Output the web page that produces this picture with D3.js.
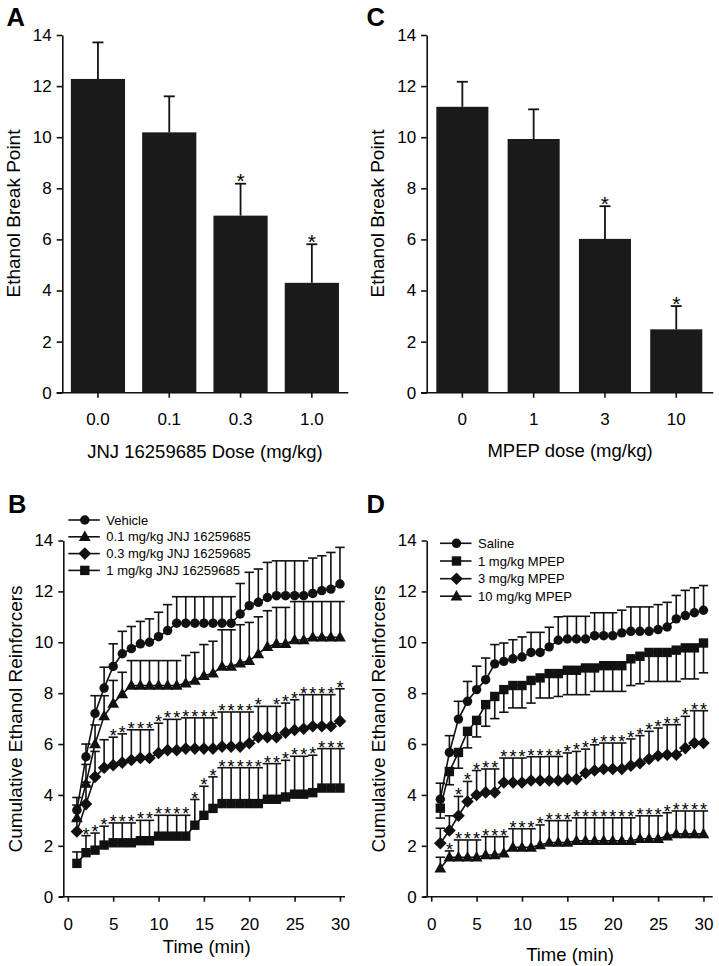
<!DOCTYPE html>
<html><head><meta charset="utf-8">
<script src="https://cdn.jsdelivr.net/npm/d3@7"></script>
<style>
body{margin:0;background:#fff}
svg{display:block}
text{font-family:"Liberation Sans",Arial,Helvetica,sans-serif;fill:#000}
</style>
</head><body>
<svg id="chart" width="719" height="966"></svg>
<script>
// ---------- Panel A / C (bar charts) ----------
const doseA = ["0.0", "0.1", "0.3", "1.0"];
const breakA = [12.28, 10.19, 6.93, 4.3];
const semA = [1.43, 1.41, 1.25, 1.51];
const sigA = [false, false, true, true];

const doseC = ["0", "1", "3", "10"];
const breakC = [11.19, 9.93, 6.02, 2.48];
const semC = [0.98, 1.16, 1.28, 0.91];
const sigC = [false, false, true, true];

const yTicks = [0, 2, 4, 6, 8, 10, 12, 14];
const xTicksTime = [0, 5, 10, 15, 20, 25, 30];

// ---------- Panel B / D (cumulative time courses) ----------
const minutes = [1,2,3,4,5,6,7,8,9,10,11,12,13,14,15,16,17,18,19,20,21,22,23,24,25,26,27,28,29,30];

const vehicleB = [3.4,5.5,7.2,8.2,9.05,9.55,9.75,9.94,10.0,10.22,10.46,10.75,10.75,10.75,10.75,10.75,10.75,10.75,11.11,11.44,11.57,11.76,11.83,11.83,11.83,11.83,11.92,12.03,12.09,12.29];
const vehicleSemB = [0.5,0.5,0.7,0.82,0.89,0.88,0.87,0.88,0.92,0.96,1.02,1.04,1.04,1.04,1.04,1.04,1.04,1.04,1.2,1.31,1.31,1.38,1.37,1.37,1.37,1.37,1.39,1.37,1.44,1.44];

const jnj01B = [3.1,4.45,6.0,7.1,7.6,7.97,8.3,8.3,8.3,8.3,8.3,8.3,8.39,8.5,8.69,8.78,9.05,9.05,9.18,9.28,9.54,9.83,9.94,9.94,10.09,10.09,10.2,10.2,10.2,10.2];
const jnj01SemB = [0.5,0.75,0.75,0.8,0.9,0.85,0.98,0.98,0.98,0.98,0.98,0.98,1.09,1.1,1.22,1.26,1.44,1.44,1.51,1.5,1.46,1.41,1.43,1.43,1.51,1.51,1.4,1.4,1.4,1.4];

const jnj03B = [2.56,3.64,4.71,5.07,5.17,5.27,5.37,5.45,5.45,5.65,5.76,5.76,5.82,5.82,5.82,5.82,5.9,5.9,5.9,6.03,6.27,6.27,6.27,6.45,6.55,6.6,6.7,6.7,6.7,6.9];
const jnj03SemB = [0.45,0.86,1.0,1.1,1.1,1.13,1.19,1.11,1.11,1.17,1.21,1.21,1.21,1.21,1.21,1.21,1.36,1.36,1.36,1.23,1.21,1.21,1.21,1.16,1.19,1.34,1.24,1.24,1.24,1.27];
const jnj03StarsB = [5,6,7,8,9,10,11,12,13,14,15,16,17,18,19,20,21,23,24,25,26,27,28,29,30];

const jnj1B = [1.31,1.73,1.83,2.03,2.12,2.12,2.12,2.2,2.2,2.38,2.38,2.38,2.38,2.81,3.2,3.47,3.66,3.66,3.66,3.66,3.66,3.83,3.83,3.92,4.03,4.03,4.09,4.27,4.27,4.27];
const jnj1SemB = [0.45,0.67,0.67,0.74,0.78,0.78,0.78,0.8,0.8,0.82,0.82,0.82,0.82,1.01,1.14,1.24,1.41,1.41,1.41,1.41,1.41,1.4,1.4,1.44,1.49,1.49,1.47,1.55,1.55,1.55];
const jnj1StarsB = [2,3,4,5,6,7,8,9,10,11,12,13,14,15,16,17,18,19,20,21,22,23,24,25,26,27,28,29,30];

const salineD = [3.83,5.67,6.98,7.68,8.14,8.53,9.15,9.25,9.35,9.42,9.6,9.6,9.82,10.08,10.13,10.13,10.13,10.26,10.26,10.26,10.37,10.43,10.43,10.43,10.5,10.6,10.92,11.05,11.16,11.26];
const salineSemD = [0.63,0.66,0.7,0.78,0.92,0.85,0.76,0.72,0.75,0.79,0.79,0.79,0.77,0.92,0.89,0.89,0.89,0.9,0.9,0.9,0.89,0.96,0.96,0.96,0.98,0.97,0.92,0.99,0.98,0.97];

const mpep1D = [3.48,4.92,5.67,6.5,6.93,7.55,7.87,8.14,8.3,8.3,8.5,8.6,8.77,8.77,8.9,8.9,8.99,8.99,9.08,9.08,9.08,9.35,9.45,9.6,9.6,9.6,9.69,9.78,9.78,9.97];
const mpep1SemD = [0.39,0.52,0.62,0.65,0.65,0.85,0.87,0.89,0.88,0.88,0.89,0.79,0.96,0.9,0.96,0.96,1.05,0.92,1.01,1.01,1.01,1.05,1.08,1.14,1.14,1.14,1.23,1.22,1.22,1.17];

const mpep3D = [2.1,2.6,3.18,3.74,4.0,4.1,4.1,4.49,4.49,4.49,4.57,4.57,4.57,4.57,4.62,4.62,4.86,4.96,5.02,5.02,5.02,5.15,5.25,5.41,5.54,5.58,5.58,5.84,6.04,6.04];
const mpep3SemD = [0.59,0.58,0.76,0.79,0.96,0.92,0.92,0.96,0.96,0.96,0.93,0.93,0.94,0.94,1.03,1.09,0.94,1.01,1.02,1.02,1.02,1.05,1.08,1.09,1.09,1.18,1.18,1.25,1.27,1.27];
const mpep3StarsD = [3,4,5,6,7,8,9,10,11,12,13,14,15,16,17,18,19,20,21,22,23,24,25,26,27,28,29,30];

const mpep10D = [1.12,1.55,1.55,1.55,1.55,1.64,1.64,1.71,1.94,1.94,1.94,2.03,2.13,2.13,2.13,2.2,2.2,2.2,2.2,2.2,2.2,2.2,2.28,2.28,2.28,2.38,2.47,2.47,2.47,2.47];
const mpep10SemD = [0.43,0.25,0.68,0.68,0.68,0.72,0.72,0.65,0.73,0.73,0.73,0.79,0.86,0.86,0.86,0.9,0.9,0.9,0.9,0.9,0.9,0.9,0.9,0.9,0.9,0.92,0.9,0.9,0.9,0.9];
const mpep10StarsD = [2,3,4,5,6,7,8,9,10,11,12,13,14,15,16,17,18,19,20,21,22,23,24,25,26,27,28,29,30];

const seriesB = [
  {label: "Vehicle", shape: "circle", values: vehicleB, sem: vehicleSemB, dir: 1, stars: []},
  {label: "0.1 mg/kg JNJ 16259685", shape: "triangle", values: jnj01B, sem: jnj01SemB, dir: 1, stars: []},
  {label: "0.3 mg/kg JNJ 16259685", shape: "diamond", values: jnj03B, sem: jnj03SemB, dir: 1, stars: jnj03StarsB},
  {label: "1 mg/kg JNJ 16259685", shape: "square", values: jnj1B, sem: jnj1SemB, dir: 1, stars: jnj1StarsB}
];
const seriesD = [
  {label: "Saline", shape: "circle", values: salineD, sem: salineSemD, dir: 1, stars: []},
  {label: "1 mg/kg MPEP", shape: "square", values: mpep1D, sem: mpep1SemD, dir: -1, stars: []},
  {label: "3 mg/kg MPEP", shape: "diamond", values: mpep3D, sem: mpep3SemD, dir: 1, stars: mpep3StarsD},
  {label: "10 mg/kg MPEP", shape: "triangle", values: mpep10D, sem: mpep10SemD, dir: 1, stars: mpep10StarsD}
];

// ---------- drawing ----------
const svg = d3.select("#chart");
const INK = "#111";
const AX_W = 1.6;

function marker(shape) {
  if (shape === "circle") return d3.symbol(d3.symbolCircle, 70)();
  if (shape === "square") return "M-4.7,-4.7H4.7V4.7H-4.7Z";
  if (shape === "diamond") return "M0,-6.3L6.3,0L0,6.3L-6.3,0Z";
  return "M0,-6.2L5.9,4.3L-5.9,4.3Z";
}

function styleAxis(g, fontSize) {
  g.selectAll("path,line").attr("stroke", INK).attr("stroke-width", AX_W);
  g.selectAll("text").attr("font-size", fontSize).attr("fill", "#000");
}

function panelLetter(ch, x, y) {
  svg.append("text").attr("x", x).attr("y", y).attr("font-size", 25.5)
    .attr("font-weight", "bold").text(ch);
}

function yTitle(txt, x, cy) {
  svg.append("text").attr("transform", `translate(${x},${cy}) rotate(-90)`)
    .attr("text-anchor", "middle").attr("font-size", 19).text(txt);
}

function barPanel(o) {
  const y = d3.scaleLinear().domain([0, 14]).range([392.7, 35]);
  const x = d3.scaleBand().domain(o.cats).range([o.left, o.right])
    .paddingInner(o.pad).paddingOuter(o.pad / 2);
  const g = svg.append("g");
  g.selectAll("rect.bar").data(o.cats).join("rect")
    .attr("x", d => x(d)).attr("width", x.bandwidth())
    .attr("y", (d, i) => y(o.vals[i])).attr("height", (d, i) => y(0) - y(o.vals[i]))
    .attr("fill", "#1a1a1a");
  o.cats.forEach((c, i) => {
    const cx = x(c) + x.bandwidth() / 2;
    const top = y(o.vals[i] + o.sems[i]);
    g.append("line").attr("x1", cx).attr("x2", cx).attr("y1", y(o.vals[i])).attr("y2", top)
      .attr("stroke", INK).attr("stroke-width", 1.8);
    g.append("line").attr("x1", cx - 5.5).attr("x2", cx + 5.5).attr("y1", top).attr("y2", top)
      .attr("stroke", INK).attr("stroke-width", 1.8);
    if (o.sig[i]) {
      g.append("text").attr("x", cx).attr("y", top + 4.5).attr("text-anchor", "middle")
        .attr("font-size", 21).text("*");
    }
  });
  const ya = svg.append("g").attr("transform", `translate(${o.left},0)`)
    .call(d3.axisLeft(y).tickValues(yTicks).tickSize(5.6).tickPadding(5).tickSizeOuter(0));
  styleAxis(ya, 17);
  const xa = svg.append("g").attr("transform", `translate(0,${y(0)})`)
    .call(d3.axisBottom(x).tickSize(5).tickPadding(15).tickSizeOuter(0));
  xa.select(".domain").remove();
  styleAxis(xa, 17);
  svg.append("line").attr("x1", o.left - 5.6).attr("x2", o.axisEnd).attr("y1", y(0)).attr("y2", y(0))
    .attr("stroke", INK).attr("stroke-width", AX_W);
  svg.append("text").attr("x", o.xTitleX).attr("y", o.xTitleY).attr("text-anchor", "middle")
    .attr("font-size", 18.5).text(o.xTitle);
  yTitle("Ethanol Break Point", o.yTitleX, 213.5);
  panelLetter(o.letter, o.letterX, 26);
}

function linePanel(o) {
  const y = d3.scaleLinear().domain([0, 14]).range([896.7, 540.5]);
  const x = d3.scaleLinear().domain([-0.5, 30.5]).range([o.left, o.xEnd]);
  const g = svg.append("g");
  o.series.forEach(s => {
    minutes.forEach((t, i) => {
      const cx = x(t);
      const end = y(s.values[i] + s.dir * s.sem[i]);
      g.append("line").attr("x1", cx).attr("x2", cx).attr("y1", y(s.values[i])).attr("y2", end)
        .attr("stroke", INK).attr("stroke-width", 1.6);
      g.append("line").attr("x1", cx - 4.7).attr("x2", cx + 4.7).attr("y1", end).attr("y2", end)
        .attr("stroke", INK).attr("stroke-width", 1.6);
    });
    s.stars.forEach(t => {
      const i = minutes.indexOf(t);
      const end = y(s.values[i] + s.sem[i]);
      g.append("text").attr("x", x(t)).attr("y", end + 5).attr("text-anchor", "middle")
        .attr("font-size", 18).text("*");
    });
  });
  const line = d3.line().x((d, i) => x(minutes[i])).y(d => y(d));
  o.series.forEach(s => {
    g.append("path").datum(s.values).attr("d", line).attr("fill", "none")
      .attr("stroke", INK).attr("stroke-width", 1.6);
  });
  o.series.forEach(s => {
    g.selectAll(null).data(s.values).join("path")
      .attr("transform", (d, i) => `translate(${x(minutes[i])},${y(d)})`)
      .attr("d", marker(s.shape)).attr("fill", INK);
  });
  const ya = svg.append("g").attr("transform", `translate(${o.left},0)`)
    .call(d3.axisLeft(y).tickValues(yTicks).tickSize(5).tickPadding(5).tickSizeOuter(0));
  styleAxis(ya, 17);
  const xa = svg.append("g").attr("transform", `translate(0,${y(0)})`)
    .call(d3.axisBottom(x).tickValues(xTicksTime).tickSize(5).tickPadding(16).tickSizeOuter(0));
  xa.select(".domain").remove();
  styleAxis(xa, 17);
  svg.append("line").attr("x1", o.left - 4).attr("x2", o.axisEnd).attr("y1", y(0)).attr("y2", y(0))
    .attr("stroke", INK).attr("stroke-width", AX_W);
  svg.append("text").attr("x", o.xTitleX).attr("y", o.xTitleY).attr("text-anchor", "middle")
    .attr("font-size", 18.5).text("Time (min)");
  yTitle("Cumulative Ethanol Reinforcers", o.yTitleX, 719);
  panelLetter(o.letter, o.letterX, 513.3);
  const lg = svg.append("g");
  o.series.forEach((s, i) => {
    const ly = o.legY[i];
    lg.append("line").attr("x1", o.legX0).attr("x2", o.legX0 + 31.5).attr("y1", ly).attr("y2", ly)
      .attr("stroke", INK).attr("stroke-width", 1.6);
    lg.append("path").attr("transform", `translate(${o.legX0 + 16.5},${ly})`)
      .attr("d", marker(s.shape)).attr("fill", INK);
    lg.append("text").attr("x", o.legX0 + 38).attr("y", ly).attr("dy", "0.36em")
      .attr("font-size", 13).text(s.label);
  });
}

barPanel({cats: doseA, vals: breakA, sems: semA, sig: sigA, left: 62.3, right: 347.5, axisEnd: 348.3,
  pad: 0.24, xTitle: "JNJ 16259685 Dose (mg/kg)", xTitleX: 205, xTitleY: 458.3, yTitleX: 19.5,
  letter: "A", letterX: 6.5});
barPanel({cats: doseC, vals: breakC, sems: semC, sig: sigC, left: 426.7, right: 711.9, axisEnd: 713.3,
  pad: 0.27, xTitle: "MPEP dose (mg/kg)", xTitleX: 570, xTitleY: 456.7, yTitleX: 383.5,
  letter: "C", letterX: 366.5});

linePanel({series: seriesB, left: 63.3, xEnd: 344.5, axisEnd: 345, xTitleX: 206.7, xTitleY: 952.5,
  yTitleX: 22, letter: "B", letterX: 8, legX0: 68.3, legY: [520, 536.8, 553.6, 570.4]});
linePanel({series: seriesD, left: 426.7, xEnd: 708, axisEnd: 712.7, xTitleX: 570, xTitleY: 961,
  yTitleX: 384.5, letter: "D", letterX: 366.5, legX0: 440, legY: [543.3, 561, 578.7, 596.2]});
</script>
</body></html>
